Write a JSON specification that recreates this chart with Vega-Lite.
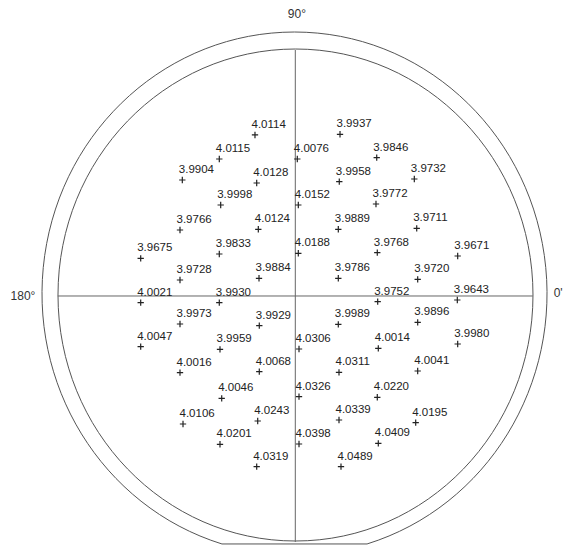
{
  "$schema": "https://vega.github.io/schema/vega-lite/v6.json",
  "width": 564,
  "height": 548,
  "autosize": "none",
  "padding": 0,
  "config": {"view": {"stroke": null}},
  "datasets": {
    "sites": [
      {"v": 4.0114, "x": -12.73, "y": 49.09},
      {"v": 3.9937, "x": 14.12, "y": 49.30},
      {"v": 4.0115, "x": -24.00, "y": 41.77},
      {"v": 4.0076, "x": 0.63, "y": 41.77},
      {"v": 3.9846, "x": 25.71, "y": 42.16},
      {"v": 3.9904, "x": -35.68, "y": 35.37},
      {"v": 4.0128, "x": -12.19, "y": 34.45},
      {"v": 3.9958, "x": 13.89, "y": 34.85},
      {"v": 3.9732, "x": 37.58, "y": 35.67},
      {"v": 3.9998, "x": -23.56, "y": 27.74},
      {"v": 4.0152, "x": 0.95, "y": 27.74},
      {"v": 3.9772, "x": 25.48, "y": 28.05},
      {"v": 3.9766, "x": -36.41, "y": 20.12},
      {"v": 4.0124, "x": -11.68, "y": 20.34},
      {"v": 3.9889, "x": 13.58, "y": 20.34},
      {"v": 3.9711, "x": 38.34, "y": 20.64},
      {"v": 3.9675, "x": -48.82, "y": 11.49},
      {"v": 3.9833, "x": -24.00, "y": 12.80},
      {"v": 4.0188, "x": 0.95, "y": 13.02},
      {"v": 3.9768, "x": 25.89, "y": 13.20},
      {"v": 3.9671, "x": 51.28, "y": 12.20},
      {"v": 3.9728, "x": -36.41, "y": 4.88},
      {"v": 3.9884, "x": -11.46, "y": 5.40},
      {"v": 3.9786, "x": 13.58, "y": 5.40},
      {"v": 3.9720, "x": 38.65, "y": 5.09},
      {"v": 4.0021, "x": -48.82, "y": -2.04},
      {"v": 3.9930, "x": -24.00, "y": -2.04},
      {"v": 3.9752, "x": 26.02, "y": -1.74},
      {"v": 3.9643, "x": 51.16, "y": -1.22},
      {"v": 3.9973, "x": -36.41, "y": -8.54},
      {"v": 3.9929, "x": -11.37, "y": -9.05},
      {"v": 3.9989, "x": 13.58, "y": -8.63},
      {"v": 3.9896, "x": 38.65, "y": -8.02},
      {"v": 4.0047, "x": -48.82, "y": -15.46},
      {"v": 3.9959, "x": -23.78, "y": -16.25},
      {"v": 4.0306, "x": 1.17, "y": -16.16},
      {"v": 4.0014, "x": 26.21, "y": -15.95},
      {"v": 3.9980, "x": 51.28, "y": -14.63},
      {"v": 4.0016, "x": -36.41, "y": -23.38},
      {"v": 4.0068, "x": -11.37, "y": -23.08},
      {"v": 4.0311, "x": 13.80, "y": -23.26},
      {"v": 4.0041, "x": 38.65, "y": -22.87},
      {"v": 4.0046, "x": -23.24, "y": -31.19},
      {"v": 4.0326, "x": 1.17, "y": -30.70},
      {"v": 4.0220, "x": 25.89, "y": -30.88},
      {"v": 4.0106, "x": -35.46, "y": -39.02},
      {"v": 4.0243, "x": -11.87, "y": -38.11},
      {"v": 4.0339, "x": 13.80, "y": -37.80},
      {"v": 4.0195, "x": 38.02, "y": -38.63},
      {"v": 4.0201, "x": -23.78, "y": -45.21},
      {"v": 4.0398, "x": 1.17, "y": -45.12},
      {"v": 4.0409, "x": 26.21, "y": -44.91},
      {"v": 4.0319, "x": -12.19, "y": -52.04},
      {"v": 4.0489, "x": 14.43, "y": -52.04}
    ]
  },
  "encoding": {
    "x": {"field": "x", "type": "quantitative", "scale": {"domain": [-93.25, 84.85], "nice": false, "zero": false}, "axis": null},
    "y": {"field": "y", "type": "quantitative", "scale": {"domain": [-76.83, 90.24], "nice": false, "zero": false}, "axis": null}
  },
  "layer": [
    {
      "data": {"values": [{"part": "outer edge", "x": -0.25, "y": 0.76}]},
      "mark": {"type": "point", "shape": "M-0.2874,0.9919C-0.7627,0.8442,-1.0614,0.358,-0.9894,-0.1504C-0.9174,-0.6588,-0.4962,-1.0356,0,-1.0356C0.4962,-1.0356,0.9174,-0.6588,0.9894,-0.1504C1.0614,0.358,0.7627,0.8442,0.2874,0.9919Z", "size": 255025, "filled": false, "stroke": "#555555", "strokeWidth": 1, "opacity": 1}
    },
    {
      "data": {"values": [{"part": "inner edge", "x": 0.06, "y": 0.3}]},
      "mark": {"type": "point", "shape": "M1,0C1,0.5721,0.5523,1.0358,0,1.0358C-0.5523,1.0358,-1,0.5721,-1,0C-1,-0.5721,-0.5523,-1.0358,0,-1.0358C0.5523,-1.0358,1,-0.5721,1,0Z", "size": 225625, "filled": false, "stroke": "#555555", "strokeWidth": 1, "opacity": 1}
    },
    {
      "data": {"values": [{"x": 0, "y": -75, "y2": 75}]},
      "mark": {"type": "rule", "stroke": "#666666", "strokeWidth": 1},
      "encoding": {"y2": {"field": "y2"}}
    },
    {
      "data": {"values": [{"x": -75, "x2": 75, "y": 0}]},
      "mark": {"type": "rule", "stroke": "#666666", "strokeWidth": 1},
      "encoding": {"x2": {"field": "x2"}}
    },
    {
      "data": {"name": "sites"},
      "mark": {"type": "point", "shape": "M-1,0H1M0,-1V1", "size": 40, "filled": false, "stroke": "#222222", "strokeWidth": 1.2, "opacity": 1}
    },
    {
      "data": {"name": "sites"},
      "mark": {"type": "text", "align": "left", "baseline": "middle", "dx": -3.5, "dy": -10, "font": "Liberation Sans", "fontSize": 11.5, "fill": "#222222"},
      "encoding": {"text": {"field": "v", "type": "quantitative", "format": ".4f"}}
    },
    {
      "data": {"values": [
        {"label": "90°", "x": 0.5, "y": 86.0},
        {"label": "180°", "x": -86.0, "y": 0},
        {"label": "0'", "x": 83.0, "y": 0.9}
      ]},
      "mark": {"type": "text", "align": "center", "baseline": "middle", "font": "Liberation Sans", "fontSize": 12, "fill": "#333333"},
      "encoding": {"text": {"field": "label"}}
    }
  ]
}
